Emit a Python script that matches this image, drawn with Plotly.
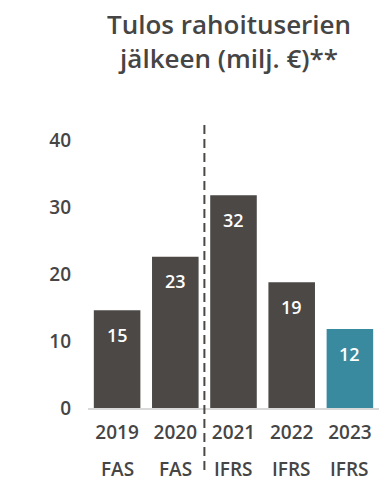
import plotly.graph_objects as go

years = ["2019", "2020", "2021", "2022", "2023"]
standards = ["FAS", "FAS", "IFRS", "IFRS", "IFRS"]
values = [14.6, 22.6, 31.8, 18.8, 11.8]
value_labels = ["15", "23", "32", "19", "12"]
y_ticks = [0, 10, 20, 30, 40]

DARK = "#4b4846"
TEAL = "#3a8a9f"
TXT = "#464545"
FONT = "Open Sans"
W = 600

colors = [DARK] * (len(years) - 1) + [TEAL]
xpos = list(range(len(years)))

fig = go.Figure()
fig.add_trace(go.Bar(
    x=xpos, y=values, width=0.8, marker=dict(color=colors, line=dict(width=0)),
    hoverinfo="skip", showlegend=False,
))

# value labels inside bars
for i, v, lab in zip(xpos, values, value_labels):
    fig.add_annotation(x=i, y=v, text=lab, showarrow=False, xref="x", yref="y",
                       yanchor="middle", yshift=-24.5,
                       font=dict(family=FONT, size=18, color="white", weight=W))

# accounting standard row
for i, st in zip(xpos, standards):
    fig.add_annotation(x=i, y=-0.216, text=st, showarrow=False, xref="x", yref="paper",
                       yanchor="middle",
                       font=dict(family=FONT, size=19, color=TXT, weight=W))

# title
fig.add_annotation(x=0.484, y=1.428, xref="paper", yref="paper", xanchor="center",
                   yanchor="top", showarrow=False,
                   text="Tulos rahoituserien<br>jälkeen (milj. €)**",
                   font=dict(family=FONT, size=26, color=TXT, weight=W))

# dashed separator between FAS and IFRS
fig.add_shape(type="line", xref="x", yref="paper", x0=1.5, x1=1.5, y0=1, y1=-0.226,
              line=dict(color=DARK, width=2, dash="9px,5px"))

fig.update_layout(
    width=379, height=485,
    margin=dict(l=88, r=0, t=125, b=77),
    paper_bgcolor="white", plot_bgcolor="white",
    xaxis=dict(range=[-0.5, len(years) - 0.5], tickvals=xpos, ticktext=years,
               showline=True, linecolor="#d9d9d9", linewidth=2,
               showgrid=False, zeroline=False, ticks="",
               tickfont=dict(family=FONT, size=19, color=TXT, weight=W),
               ticklabelstandoff=6),
    yaxis=dict(range=[0, 42.3], tickvals=y_ticks, showgrid=False, zeroline=False,
               showline=False, ticks="",
               tickfont=dict(family=FONT, size=19, color=TXT, weight=W),
               ticklabelstandoff=16),
)

fig.write_html("out.html")
